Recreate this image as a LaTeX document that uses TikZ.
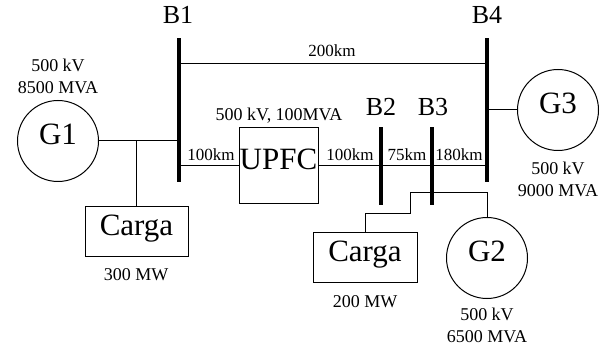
\documentclass[tikz,border=0pt]{standalone}
\usepackage{fontspec}
\setmainfont{Liberation Serif}
\usetikzlibrary{positioning}

\begin{document}
\begin{tikzpicture}[x=1pt, y=-1pt, line width=1pt,
    gen/.style={circle, draw, minimum size=81pt, inner sep=0pt, font=\fontsize{31}{31}\selectfont, text height=0.68em, text depth=0pt},
    loadbox/.style={rectangle, draw, inner sep=0pt, font=\fontsize{31}{31}\selectfont, text height=0.68em, text depth=0pt},
    bus/.style={rectangle, fill=black, inner sep=0pt, minimum width=4pt},
    busname/.style={font=\fontsize{26}{26}\selectfont},
    info/.style={font=\fontsize{18}{22}\selectfont, align=center},
    dist/.style={font=\fontsize{17}{17}\selectfont}]
                    \useasboundingbox (0,0) rectangle (615,352);

                    % barras
                    \node[bus, minimum height=144pt] (B1) at (179,110) {};
                    \node[bus, minimum height=144pt] (B4) at (487,110) {};
                    \node[bus, minimum height=78pt] (B2) at (381,166) {};
                    \node[bus, minimum height=78pt] (B3) at (432,166) {};
                    \node[busname] (nB1) at (178,15) {B1};
                    \node[busname] (nB4) at (487,15) {B4};
                    \node[busname] (nB2) at (381,107) {B2};
                    \node[busname] (nB3) at (433,107) {B3};

                    % geradores, cargas e UPFC
                    \node[gen] (G1) at (58,141) {G1};
                    \node[gen] (G3) at (558,110) {G3};
                    \node[gen] (G2) at (487,258) {G2};
                    \node[loadbox, minimum width=103pt, minimum height=50pt] (L1) at (136.5,232) {Carga};
                    \node[loadbox, minimum width=104pt, minimum height=50pt] (L2) at (365,258) {Carga};
                    \node[loadbox, minimum width=79pt, minimum height=76pt] (upfc) at (278.5,166) {UPFC};

                    % linhas
                    \coordinate (top) at (0,64);
                    \coordinate (s1) at (410,214);
                    \coordinate (s2) at (410,193);
                    \draw (B1 |- top) -- (B4 |- top);
                    \draw (G1.east) -- (B1 |- G1);
                    \draw (L1.north) -- (L1 |- G1);
                    \draw (B1 |- upfc) -- (upfc.west);
                    \draw (upfc.east) -- (B4 |- upfc);
                    \draw (B4 |- G3) -- (G3.west);
                    \draw (L2.north) |- (s1) -- (s2) -| (G2.north);

                    % textos
                    \node[dist] (d14) at (332,51) {200km};
                    \node[dist] (d1u) at (211,155) {100km};
                    \node[dist] (du2) at (350,155) {100km};
                    \node[dist] (d23) at (407,155) {75km};
                    \node[dist] (d34) at (459,155) {180km};
                    \node[info] (iG1) at (58,76) {500 kV\\8500 MVA};
                    \node[info] (iG3) at (558,179) {500 kV\\9000 MVA};
                    \node[info] (iG2) at (487,325.5) {500 kV\\6500 MVA};
                    \node[info] (iU) at (279,116) {500 kV, 100MVA};
                    \node[info] (iL1) at (136,275) {300 MW};
                    \node[info] (iL2) at (365,302) {200 MW};
                \end{tikzpicture}
\end{document}
